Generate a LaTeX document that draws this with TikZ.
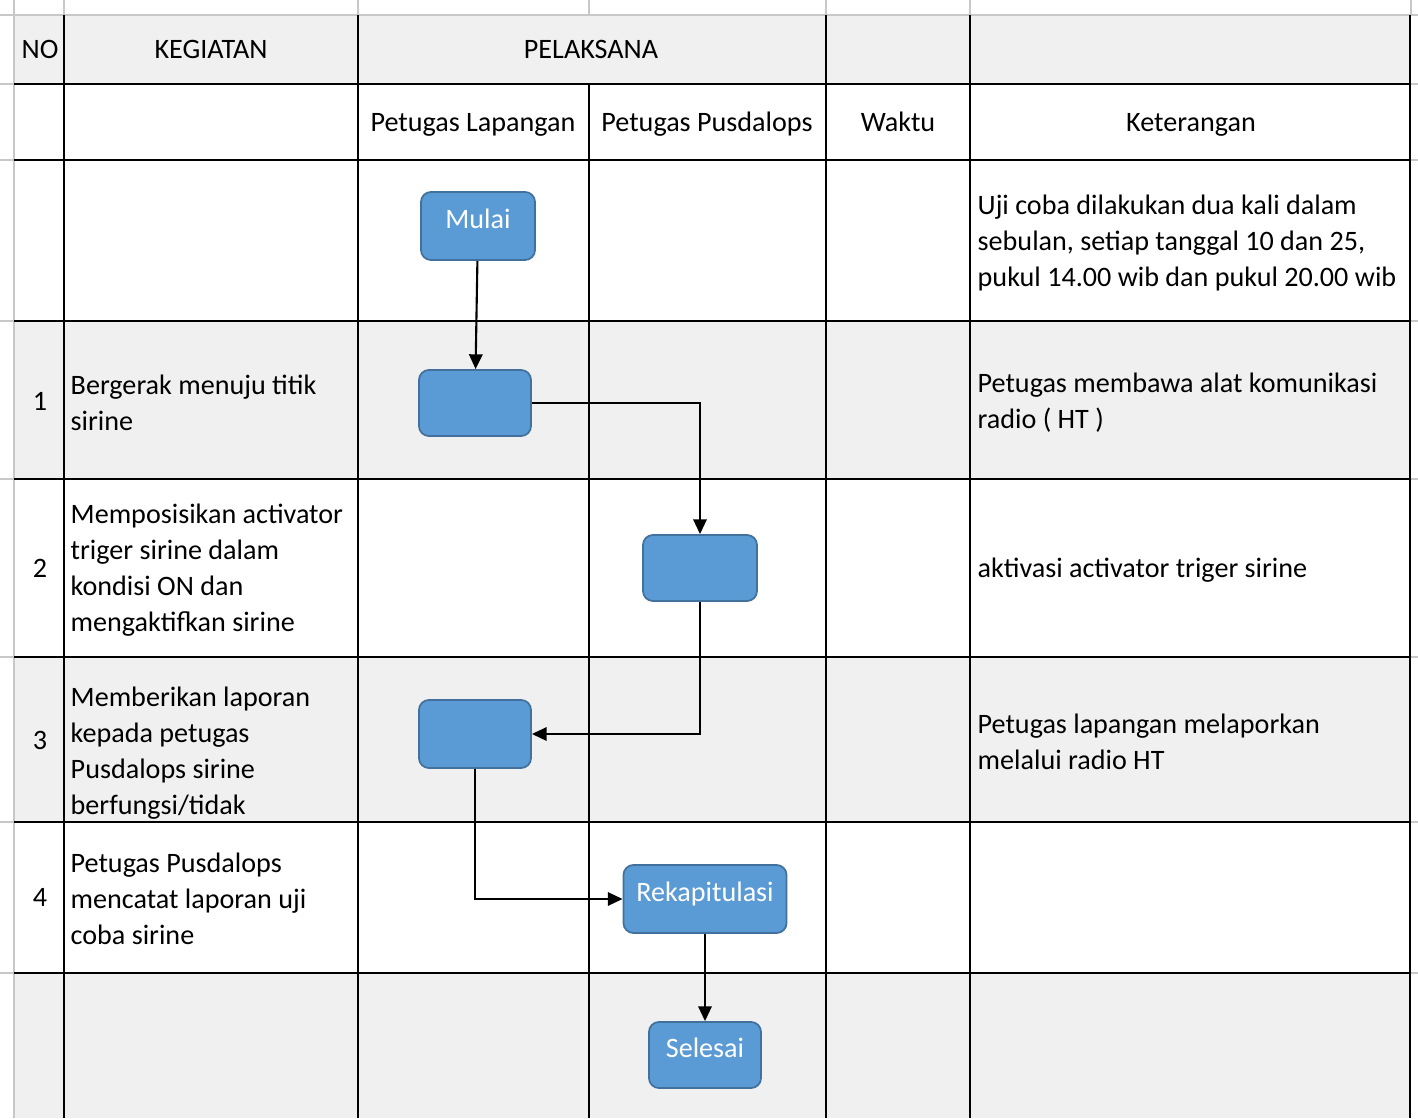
\documentclass[tikz,border=0pt]{standalone}
\usepackage{fontspec}
\setmainfont{Carlito}
\usetikzlibrary{arrows.meta}
\usetikzlibrary{positioning}
\definecolor{BoxBlue}{HTML}{5B9BD5}
\definecolor{BoxEdge}{HTML}{41719C}
\definecolor{RowGray}{HTML}{F0F0F0}
\definecolor{GridGray}{HTML}{C8C8C8}
\tikzset{
  txt/.style={font=\fontsize{8}{10.24}\selectfont, inner sep=0pt},
  hdr/.style={txt, text height=5.8pt, text depth=1.9pt},
  ket/.style={txt, anchor=west, align=left},
  proc/.style={draw=BoxEdge, fill=BoxBlue, line width=0.5pt, rounded corners=1mm,
    text=white, font=\fontsize{8}{10}\selectfont, text depth=4pt, inner sep=0pt},
  flow/.style={-{Triangle[length=4.2pt,width=3.8pt]}, line width=0.6pt},
  grid/.style={line width=0.7pt, black},
  faint/.style={line width=0.4pt, GridGray}
}

\begin{document}
\begin{tikzpicture}[x=0.01cm, y=-0.01cm]
  \useasboundingbox (0,0) rectangle (1418,1118);

  % shaded rows
  \fill[RowGray] (14,15) rectangle (1410,84);
  \fill[RowGray] (14,321) rectangle (1410,479);
  \fill[RowGray] (14,657) rectangle (1410,822);
  \fill[RowGray] (14,973) rectangle (1410,1118);

  % sheet grid outside the table
  \draw[faint] (0,15) -- (1418,15);
  \draw[faint] (14,0) -- (14,1118);
  \foreach \x in {64,358,589,826,970,1411}
    \draw[faint] (\x,0) -- (\x,15);
  \foreach \y in {84,160,321,479,657,822,973} {
    \draw[faint] (0,\y) -- (14,\y);
    \draw[faint] (1410,\y) -- (1418,\y);
  }

  % table lines
  \foreach \y in {84,160,321,479,657,822,973}
    \draw[grid] (14,\y) -- (1410,\y);
  \foreach \x in {64,358,826,970,1410}
    \draw[grid] (\x,15) -- (\x,1118);
  \draw[grid] (589,84) -- (589,1118);

  % headers
  \node[hdr] (hNo) at (40,52) {NO};
  \node[hdr] (hKeg) at (211,52) {KEGIATAN};
  \node[hdr] (hPel) at (591,52) {PELAKSANA};
  \node[hdr] (hLap) at (473,125) {Petugas Lapangan};
  \node[hdr] (hPus) at (707,125) {Petugas Pusdalops};
  \node[hdr] (hWaktu) at (898,125) {Waktu};
  \node[hdr] (hKet) at (1191,125) {Keterangan};

  % numbers
  \node[hdr] (n1) at (40,404) {1};
  \node[hdr] (n2) at (40,571) {2};
  \node[hdr] (n3) at (40,743) {3};
  \node[hdr] (n4) at (40,900) {4};

  % kegiatan
  \node[ket] (k1) at (70,403) {Bergerak menuju titik\\sirine};
  \node[ket] (k2) at (70,570) {Memposisikan activator\\triger sirine dalam\\kondisi ON dan\\mengaktifkan sirine};
  \node[ket] (k3) at (70,753) {Memberikan laporan\\kepada petugas\\Pusdalops sirine\\berfungsi/tidak};
  \node[ket] (k4) at (70,899) {Petugas Pusdalops\\mencatat laporan uji\\coba sirine};

  % keterangan
  \node[ket] (t0) at (977,243) {Uji coba dilakukan dua kali dalam\\sebulan, setiap tanggal 10 dan 25,\\pukul 14.00 wib dan pukul 20.00 wib};
  \node[ket] (t1) at (977,403) {Petugas membawa alat komunikasi\\radio ( HT )};
  \node[ket] (t2) at (977,570) {aktivasi activator triger sirine};
  \node[ket] (t3) at (977,742) {Petugas lapangan melaporkan\\melalui radio HT};

  % flow boxes
  \node[proc, minimum width=1.14cm, minimum height=0.68cm] (start) at (478,226) {Mulai};
  \node[proc, minimum width=1.12cm, minimum height=0.66cm] (box1) at (475,403) {};
  \node[proc, minimum width=1.14cm, minimum height=0.66cm] (box2) at (700,568) {};
  \node[proc, minimum width=1.12cm, minimum height=0.68cm] (box3) at (475,734) {};
  \node[proc, minimum width=1.63cm, minimum height=0.68cm] (rekap) at (705,899) {Rekapitulasi};
  \node[proc, minimum width=1.12cm, minimum height=0.66cm] (finish) at (705,1055) {Selesai};

  \draw[flow] (start) -- (box1);
  \draw[flow] (box1.east) -| (box2.north);
  \draw[flow] (box2.south) |- (box3.east);
  \draw[flow] (box3.south) |- (rekap.west);
  \draw[flow] (rekap) -- (finish);

\end{tikzpicture}
\end{document}
